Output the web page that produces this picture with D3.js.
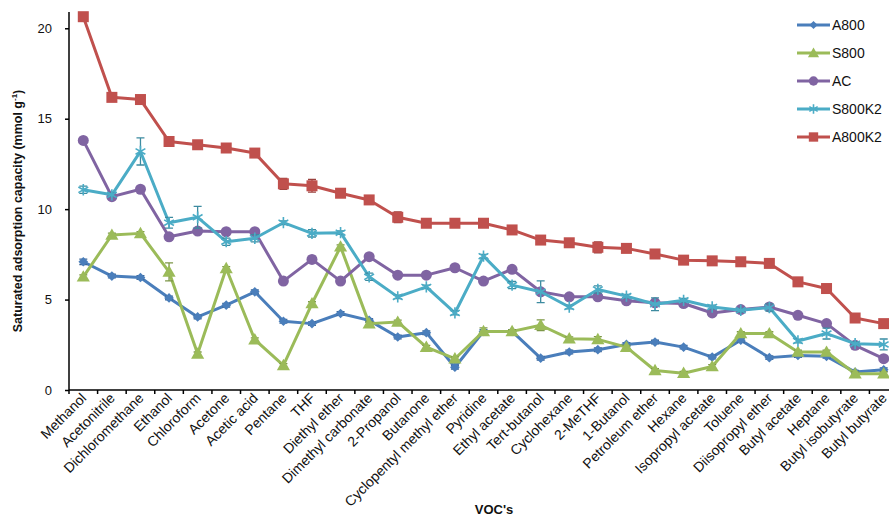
<!DOCTYPE html>
<html>
<head>
<meta charset="utf-8">
<script src="https://cdn.jsdelivr.net/npm/d3@7"></script>
<style>
body { margin: 0; background: #fff; }
text { font-family: Arial, "Liberation Sans", sans-serif; }
</style>
</head>
<body>
<div id="chart"></div>
<script>
const width = 889, height = 520;

const vocs = ["Methanol", "Acetonitrile", "Dichloromethane", "Ethanol", "Chloroform", "Acetone",
  "Acetic acid", "Pentane", "THF", "Diethyl ether", "Dimethyl carbonate", "2-Propanol", "Butanone",
  "Cyclopentyl methyl ether", "Pyridine", "Ethyl acetate", "Tert-butanol", "Cyclohexane", "2-MeTHF",
  "1-Butanol", "Petroleum ether", "Hexane", "Isopropyl acetate", "Toluene", "Diisopropyl ether",
  "Butyl acetate", "Heptane", "Butyl isobutyrate", "Butyl butyrate"];

const a800 = [7.09, 6.3, 6.22, 5.09, 4.04, 4.69, 5.43, 3.8, 3.67, 4.23, 3.85, 2.93, 3.17, 1.26, 3.24,
  3.24, 1.76, 2.1, 2.23, 2.52, 2.65, 2.37, 1.82, 2.75, 1.79, 1.91, 1.86, 0.99, 1.12];
const s800 = [6.26, 8.57, 8.66, 6.53, 2.0, 6.72, 2.78, 1.36, 4.78, 7.92, 3.67, 3.76, 2.37, 1.73, 3.24,
  3.24, 3.58, 2.84, 2.8, 2.37, 1.08, 0.93, 1.3, 3.12, 3.12, 2.1, 2.1, 0.9, 0.9];
const ac = [13.8, 10.69, 11.1, 8.47, 8.79, 8.75, 8.75, 6.02, 7.22, 6.02, 7.37, 6.35, 6.35, 6.76, 6.02,
  6.67, 5.43, 5.15, 5.15, 4.93, 4.82, 4.78, 4.26, 4.45, 4.59, 4.13, 3.67, 2.47, 1.73];
const s800k2 = [11.07, 10.79, 13.19, 9.25, 9.55, 8.2, 8.39, 9.25, 8.66, 8.7, 6.26, 5.15, 5.7, 4.26, 7.4,
  5.8, 5.43, 4.59, 5.56, 5.19, 4.74, 4.96, 4.59, 4.41, 4.56, 2.71, 3.12, 2.56, 2.52];
const a800k2 = [20.64, 16.18, 16.06, 13.74, 13.56, 13.38, 13.1, 11.4, 11.29, 10.88, 10.51, 9.55, 9.22,
  9.22, 9.22, 8.85, 8.29, 8.14, 7.89, 7.83, 7.52, 7.18, 7.14, 7.09, 7.0, 5.98, 5.61, 3.98, 3.67];

// error bar half-widths
const a800Err = [0.15, 0.1, 0.1, 0.1, 0.1, 0.1, 0.1, 0.1, 0.1, 0.1, 0.1, 0.1, 0.1, 0.1, 0.1,
  0.1, 0.1, 0.1, 0.1, 0.1, 0.1, 0.1, 0.1, 0.1, 0.1, 0.1, 0.1, 0.1, 0.1];
const s800Err = [0.1, 0.1, 0.1, 0.5, 0.1, 0.1, 0.1, 0.1, 0.1, 0.1, 0.1, 0.1, 0.1, 0.1, 0.2,
  0.1, 0.3, 0.1, 0.15, 0.1, 0.1, 0.1, 0.1, 0.1, 0.1, 0.1, 0.1, 0.1, 0.1];
const acErr = [0.1, 0.1, 0.1, 0.1, 0.1, 0.1, 0.1, 0.1, 0.1, 0.1, 0.1, 0.1, 0.1, 0.1, 0.1,
  0.1, 0.1, 0.1, 0.1, 0.1, 0.1, 0.1, 0.1, 0.1, 0.1, 0.1, 0.1, 0.1, 0.1];
const s800k2Err = [0.2, 0.1, 0.75, 0.3, 0.6, 0.2, 0.2, 0.1, 0.2, 0.1, 0.2, 0.1, 0.1, 0.1, 0.1,
  0.2, 0.6, 0.1, 0.2, 0.1, 0.35, 0.1, 0.1, 0.1, 0.2, 0.1, 0.3, 0.1, 0.3];
const a800k2Err = [0.15, 0.15, 0.15, 0.15, 0.15, 0.15, 0.2, 0.3, 0.35, 0.15, 0.15, 0.3, 0.15, 0.15, 0.15,
  0.15, 0.15, 0.15, 0.3, 0.15, 0.15, 0.15, 0.15, 0.15, 0.15, 0.2, 0.15, 0.15, 0.15];

const seriesNames = ["A800", "S800", "AC", "S800K2", "A800K2"];
const seriesValues = [a800, s800, ac, s800k2, a800k2];
const seriesErrors = [a800Err, s800Err, acErr, s800k2Err, a800k2Err];
const colors = ["#4a7ebb", "#9bbb59", "#8064a2", "#4bacc6", "#c0504d"];
const shapes = ["diamond", "triangle", "circle", "star", "square"];
const yTicks = [0, 5, 10, 15, 20];

const margin = { top: 12, right: -9, bottom: 130, left: 69 };

const svg = d3.select("#chart").append("svg")
  .attr("width", width)
  .attr("height", height);

const x = d3.scaleBand()
  .domain(vocs)
  .range([margin.left, width - margin.right]);

const y = d3.scaleLinear()
  .domain([0, 20.9])
  .range([height - margin.bottom, margin.top]);

// axes
const xAxis = svg.append("g")
  .attr("transform", `translate(0,${y(0)})`);
xAxis.append("line")
  .attr("x1", margin.left).attr("x2", width)
  .attr("stroke", "#000").attr("stroke-width", 1.5);
xAxis.selectAll(".tick")
  .data(vocs)
  .join("line")
  .attr("x1", d => x(d)).attr("x2", d => x(d))
  .attr("y1", 0).attr("y2", 4)
  .attr("stroke", "#000").attr("stroke-width", 1.5);
xAxis.selectAll(".lbl")
  .data(vocs)
  .join("text")
  .attr("transform", d => `translate(${x(d) + x.bandwidth() / 2 + 4},${9}) rotate(-45)`)
  .attr("text-anchor", "end")
  .attr("font-size", 14)
  .attr("fill", "#111")
  .text(d => d);

const yAxis = svg.append("g")
  .attr("transform", `translate(${margin.left},0)`)
  .call(d3.axisLeft(y).tickValues(yTicks).tickSize(4).tickPadding(13));
yAxis.select(".domain")
  .attr("d", `M0,${y(0)}V${margin.top}`)
  .attr("stroke-width", 1.5);
yAxis.selectAll(".tick line").attr("stroke-width", 1.5);
yAxis.selectAll(".tick text")
  .attr("font-size", 13)
  .attr("font-family", "Arial, 'Liberation Sans', sans-serif")
  .attr("fill", "#111");

// titles
const yTitle = svg.append("text")
  .attr("transform", `translate(22,${(y(0) + margin.top) / 2 + 10}) rotate(-90)`)
  .attr("text-anchor", "middle")
  .attr("font-size", 12.5)
  .attr("font-weight", "bold")
  .attr("fill", "#111");
yTitle.append("tspan").text("Saturated adsorption capacity (mmol g");
yTitle.append("tspan").attr("dy", -5).attr("font-size", 8).text("-1");
yTitle.append("tspan").attr("dy", 5).text(")");

svg.append("text")
  .attr("x", 494)
  .attr("y", 514)
  .attr("text-anchor", "middle")
  .attr("font-size", 13)
  .attr("font-weight", "bold")
  .attr("fill", "#111")
  .text("VOC's");

// markers
function drawMarker(g, shape, color, cx, cy, s) {
  if (shape === "circle") {
    g.append("circle").attr("cx", cx).attr("cy", cy).attr("r", 5.5 * s).attr("fill", color);
  } else if (shape === "square") {
    g.append("rect").attr("x", cx - 5.5 * s).attr("y", cy - 5.5 * s)
      .attr("width", 11 * s).attr("height", 11 * s).attr("fill", color);
  } else if (shape === "diamond") {
    g.append("path").attr("transform", `translate(${cx},${cy})`)
      .attr("d", d3.symbol(d3.symbolDiamond2, 60 * s * s)()).attr("fill", color);
  } else if (shape === "triangle") {
    g.append("path").attr("transform", `translate(${cx},${cy + 1})`)
      .attr("d", d3.symbol(d3.symbolTriangle, 75 * s * s)()).attr("fill", color);
  } else if (shape === "star") {
    g.append("path").attr("transform", `translate(${cx},${cy})`)
      .attr("d", d3.symbol(d3.symbolAsterisk, 90 * s * s)())
      .attr("fill", "none").attr("stroke", color).attr("stroke-width", 1.6);
  }
}

const cxOf = d => x(d) + x.bandwidth() / 2;

seriesNames.forEach((name, k) => {
  const vals = seriesValues[k], errs = seriesErrors[k], color = colors[k];
  const g = svg.append("g");
  const pts = vocs.map((v, i) => [cxOf(v), y(vals[i])]);

  g.append("path")
    .attr("d", d3.line()(pts))
    .attr("fill", "none")
    .attr("stroke", color)
    .attr("stroke-width", 3)
    .attr("stroke-linejoin", "round");

  // error bars
  vocs.forEach((v, i) => {
    const cx = cxOf(v);
    const y1 = y(vals[i] + errs[i]), y2 = y(vals[i] - errs[i]);
    g.append("path")
      .attr("d", `M${cx},${y1}V${y2}M${cx - 4},${y1}H${cx + 4}M${cx - 4},${y2}H${cx + 4}`)
      .attr("stroke", d3.color(color).darker(0.6))
      .attr("stroke-width", 1.3)
      .attr("fill", "none");
  });

  vocs.forEach((v, i) => drawMarker(g, shapes[k], color, cxOf(v), y(vals[i]), 1));
});

// legend
const legend = svg.append("g").attr("transform", "translate(797,25)");
seriesNames.forEach((name, k) => {
  const row = legend.append("g").attr("transform", `translate(0,${k * 28})`);
  row.append("line")
    .attr("x1", 0).attr("x2", 33)
    .attr("stroke", colors[k]).attr("stroke-width", 3);
  drawMarker(row, shapes[k], colors[k], 16.5, 0, 0.85);
  row.append("text")
    .attr("x", 35).attr("y", 5)
    .attr("font-size", 14)
    .attr("fill", "#111")
    .text(name);
});
</script>
</body>
</html>
